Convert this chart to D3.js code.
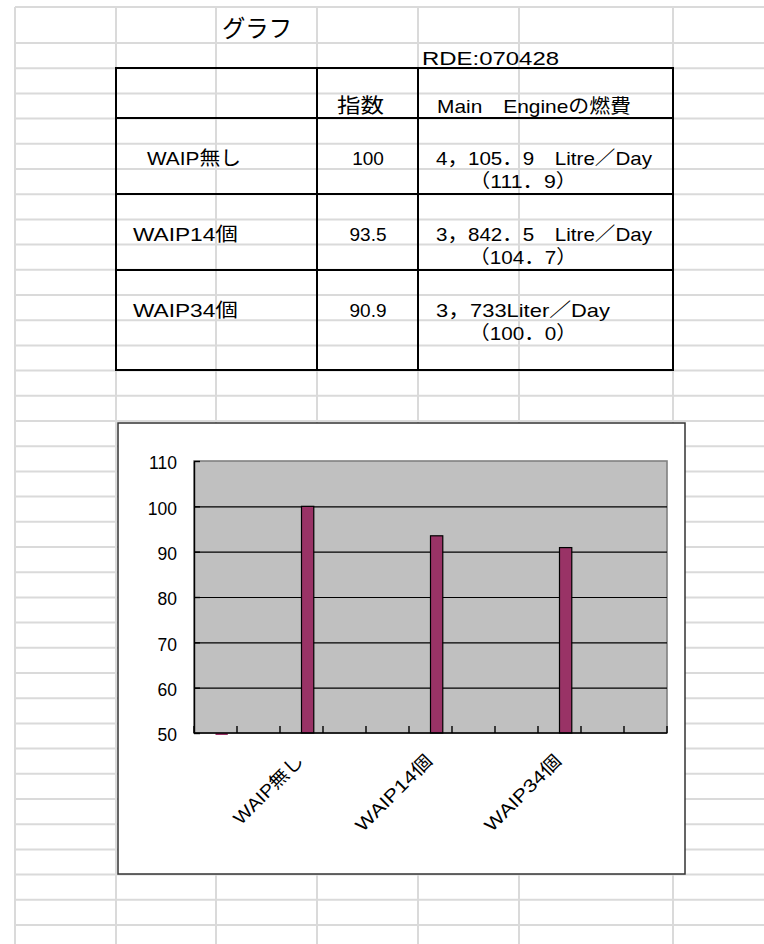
<!DOCTYPE html>
<html>
<head>
<meta charset="utf-8">
<script src="https://cdn.jsdelivr.net/npm/d3@7"></script>
<style>
  html, body { margin: 0; padding: 0; background: #ffffff; }
  svg { display: block; }
</style>
</head>
<body>
<script>
// ---- table data ----
const rowNames = ["WAIP無し", "WAIP14個", "WAIP34個"];
const indexValues = [100, 93.5, 90.9];
const fuelTexts = ["4，105．9　Litre／Day", "3，842．5　Litre／Day", "3，733Liter／Day"];
const ratioTexts = ["（111．9）", "（104．7）", "（100．0）"];

// ---- chart data (one slot per sheet row of the table range) ----
const categories = ["", "", "WAIP無し", "", "", "WAIP14個", "", "", "WAIP34個", "", ""];
const chartValues = [0, null, 100, null, null, 93.5, null, null, 90.9, null, null];
const seriesKeys = ["blank", "指数"];
const yTicks = [50, 60, 70, 80, 90, 100, 110];

const W = 764, H = 944;
const svg = d3.select("body").append("svg").attr("width", W).attr("height", H);

// ---- sheet grid ----
const colX = [15, 116, 216, 317, 418, 519, 673];
const gridTop = 7, firstRowY = 43, rowH = 25.2;
const rowYs = [gridTop].concat(d3.range(0, 37).map(k => firstRowY + k * rowH));
const grid = svg.append("g").attr("stroke", "#dadada").attr("stroke-width", 2);
rowYs.forEach(yy => grid.append("line").attr("x1", colX[0]).attr("x2", W).attr("y1", yy).attr("y2", yy));
colX.forEach(xx => grid.append("line").attr("x1", xx).attr("x2", xx).attr("y1", gridTop).attr("y2", H));

// ---- table borders ----
const tb = svg.append("g").attr("stroke", "#000").attr("stroke-width", 2).attr("fill", "none");
tb.append("rect").attr("x", 116).attr("y", 68).attr("width", 673 - 116).attr("height", 370 - 68);
[317, 418].forEach(xx => tb.append("line").attr("x1", xx).attr("x2", xx).attr("y1", 68).attr("y2", 370));
[118, 194, 270].forEach(yy => tb.append("line").attr("x1", 116).attr("x2", 673).attr("y1", yy).attr("y2", yy));

// ---- sheet text ----
const jp = "'Noto Sans CJK JP', 'Noto Sans', sans-serif";
const mixed = "'Liberation Sans', 'Noto Sans CJK JP', sans-serif";
const num = "'Liberation Sans', Arial, sans-serif";
function put(str, x, y, size, len, family, anchor) {
  const t = svg.append("text").attr("x", x).attr("y", y)
    .attr("font-family", family || mixed).attr("font-size", size).attr("fill", "#000")
    .attr("text-anchor", anchor || "start").text(str);
  if (len) t.attr("textLength", len).attr("lengthAdjust", "spacingAndGlyphs");
  return t;
}
put("グラフ", 222, 37, 24, 70, jp);
put("RDE:070428", 422, 65, 19, 137);
put("指数", 337, 113, 20, 47, jp);
put("Main　Engineの燃費", 437, 113, 19, 194);

const rowBase = [165, 241, 317];
const nameX = [147, 133, 133], nameLen = [94, 105, 105];
const fuelLen = [216, 216, 174];
rowNames.forEach((n, i) => {
  put(n, nameX[i], rowBase[i], 19, nameLen[i]);
  put(String(indexValues[i]), 368, rowBase[i], 19, null, num, "middle");
  put(fuelTexts[i], 436, rowBase[i], 19, fuelLen[i]);
  put(ratioTexts[i], 469, rowBase[i] + 23, 19, 108);
});

// ---- chart ----
svg.append("rect").attr("x", 118).attr("y", 423).attr("width", 567).attr("height", 451)
  .attr("fill", "#fff").attr("stroke", "#333").attr("stroke-width", 1.5);

const plot = { left: 194, right: 667, top: 461, bottom: 733 };
const y = d3.scaleLinear().domain([50, 110]).range([plot.bottom, plot.top]);
const gap = 1.5; // gap width as multiple of bar width
const x = d3.scaleBand().domain(d3.range(categories.length))
  .range([plot.left, plot.right])
  .paddingInner(gap / (seriesKeys.length + gap))
  .paddingOuter(gap / 2 / (seriesKeys.length + gap));
const xs = d3.scaleBand().domain(seriesKeys).range([0, x.bandwidth()]);

// plot area
svg.append("rect").attr("x", plot.left).attr("y", plot.top)
  .attr("width", plot.right - plot.left).attr("height", plot.bottom - plot.top)
  .attr("fill", "#c0c0c0").attr("stroke", "#808080").attr("stroke-width", 1.6);

// horizontal gridlines
svg.append("g").attr("transform", `translate(${plot.left},0)`)
  .call(d3.axisLeft(y).tickValues(yTicks.slice(1, -1)).tickSize(-(plot.right - plot.left)).tickFormat(""))
  .call(g => g.select(".domain").remove())
  .selectAll("line").attr("stroke", "#000").attr("stroke-width", 1.2);

// bars
const [yMin] = y.domain();
const bars = chartValues.map((v, i) => ({ i, v })).filter(d => d.v !== null);
svg.append("g").selectAll("rect").data(bars).join("rect")
  .attr("x", d => x(d.i) + xs("指数"))
  .attr("width", xs.bandwidth())
  .attr("y", d => d.v > yMin ? y(d.v) : y(yMin))
  .attr("height", d => d.v > yMin ? y(yMin) - y(d.v) : 2)
  .attr("fill", "#993366")
  .attr("stroke", d => d.v > yMin ? "#000" : "none")
  .attr("stroke-width", 1.2);

// y axis (inside ticks)
svg.append("g").attr("transform", `translate(${plot.left},0)`)
  .call(d3.axisLeft(y).tickValues(yTicks).tickSizeInner(-6).tickSizeOuter(0).tickPadding(17))
  .call(g => g.select(".domain").attr("stroke", "#000").attr("stroke-width", 1.4))
  .call(g => g.selectAll(".tick line").attr("stroke", "#000").attr("stroke-width", 1.4))
  .call(g => g.selectAll("text").attr("font-family", num).attr("font-size", 17.5)
    .attr("fill", "#000").attr("dy", "0.45em"));

// x axis line and category boundary ticks
const xa = svg.append("g").attr("stroke", "#000").attr("stroke-width", 1.4);
xa.append("line").attr("x1", plot.left).attr("x2", plot.right).attr("y1", plot.bottom).attr("y2", plot.bottom);
d3.range(categories.length + 1).forEach(k => {
  const bx = x.range()[0] + k * x.step();
  xa.append("line").attr("x1", bx).attr("x2", bx).attr("y1", plot.bottom).attr("y2", plot.bottom - 7);
});

// rotated category labels
svg.append("g").selectAll("text").data(categories.map((c, i) => ({ c, i })).filter(d => d.c))
  .join("text")
  .attr("transform", d => `translate(${x(d.i) + x.bandwidth() / 2 + 3},${plot.bottom + 29}) rotate(-45)`)
  .attr("text-anchor", "end")
  .attr("font-family", mixed).attr("font-size", 18).attr("fill", "#000")
  .attr("textLength", d => d.c === "WAIP無し" ? 90 : 100).attr("lengthAdjust", "spacingAndGlyphs")
  .text(d => d.c);
</script>
</body>
</html>
